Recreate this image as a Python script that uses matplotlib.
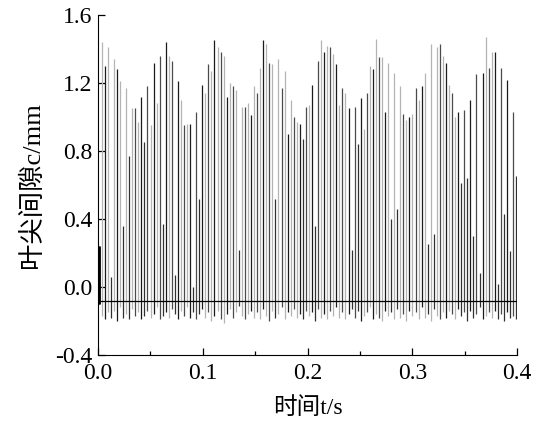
import numpy as np
import matplotlib
matplotlib.use('Agg')
import matplotlib.pyplot as plt

# pulse train: peak of each blade pulse (mm), left to right
peaks = [0.24,
         1.44, 1.30, 1.41, 0.06, 1.34, 1.28, 1.21, 0.36, 1.17, 0.77, 1.05, 1.05,
         0.97, 1.12, 0.85, 1.18, 0.95, 1.32, 1.08, 1.36, 0.37, 1.44, 1.36, 1.33,
         0.07, 1.21, 1.10, 0.95, 0.96, 0.96, 0.00, 1.03, 0.52, 1.19,
         1.14, 1.31, 1.27, 1.45, 1.41, 1.38, 1.36, 1.12, 1.20, 1.18, 1.16, 0.22,
         1.06, 1.06, 1.08, 1.01, 1.18, 1.14, 1.29, 1.45, 1.43, 1.32, 1.31, 0.52,
         1.34, 1.17, 1.27, 0.90, 1.10, 1.00, 0.97, 0.96, 0.87, 1.06, 1.07,
         1.19, 0.36, 1.33, 1.45, 1.38, 1.42, 1.41, 1.37, 1.31, 1.07, 1.17, 1.14,
         1.05, 0.22, 1.06, 0.84, 1.11, 0.93, 1.14, 1.30, 1.28, 1.46, 1.35, 1.35,
         1.03, 1.32, 0.40, 1.26, 0.46, 1.18, 1.02, 0.98, 1.00, 1.02,
         1.17, 1.10, 1.18, 1.26, 0.25, 1.43, 0.31, 1.41, 1.43, 1.36, 1.32, 1.19,
         1.14, 1.00, 1.03, 0.61, 1.04, 0.64, 1.10, 0.30, 1.25, 0.08, 1.26, 1.47,
         1.29, 1.38, 1.38, 0.02, 1.29, 0.43, 1.22, 0.21, 1.03, 0.65]

# lowest point of each pulse below the baseline
dips = [-0.10,
        -0.17, -0.19, -0.15, -0.18, -0.14, -0.20, -0.12, -0.18, -0.16, -0.19, -0.13, -0.17,
        -0.15, -0.19, -0.17, -0.14, -0.18, -0.16, -0.12, -0.19, -0.17, -0.15, -0.18, -0.13,
        -0.16, -0.19, -0.14, -0.17, -0.12, -0.18, -0.15, -0.19, -0.16, -0.13,
        -0.18, -0.15, -0.20, -0.17, -0.14, -0.19, -0.21, -0.16, -0.13, -0.18, -0.15, -0.11,
        -0.17, -0.19, -0.16, -0.14, -0.18, -0.15, -0.19, -0.13, -0.17, -0.20, -0.14, -0.18,
        -0.16, -0.12, -0.19, -0.15, -0.17, -0.13, -0.18, -0.16, -0.19, -0.14, -0.17,
        -0.15, -0.20, -0.13, -0.18, -0.16, -0.19, -0.14, -0.17, -0.12, -0.18, -0.15, -0.19,
        -0.16, -0.13, -0.18, -0.14, -0.20, -0.17, -0.15, -0.12, -0.19, -0.16, -0.18, -0.20,
        -0.14, -0.17, -0.15, -0.19, -0.13, -0.18, -0.16, -0.20, -0.14, -0.17,
        -0.15, -0.19, -0.12, -0.18, -0.16, -0.20, -0.13, -0.17, -0.19, -0.15, -0.18, -0.14,
        -0.16, -0.19, -0.13, -0.17, -0.15, -0.20, -0.14, -0.18, -0.16, -0.12, -0.19, -0.17,
        -0.15, -0.18, -0.14, -0.19, -0.16, -0.20, -0.15, -0.18, -0.17, -0.19]

baseline = -0.08
t_first = 0.0005     # pulse sitting on the y axis
t_start = 0.0036     # first full pulse
t_step = 0.002908    # blade passing interval (s)

times = np.concatenate([[t_first], t_start + t_step * np.arange(len(peaks) - 1)])

fam = ['Liberation Serif', 'Noto Sans CJK SC']
plt.rcParams['font.family'] = fam
plt.rcParams['axes.unicode_minus'] = False

fig = plt.figure(figsize=(5.37, 4.28), dpi=100)
ax = fig.add_axes([0.1825, 0.1706, 0.7803, 0.7944])

shades = ['#4a4a4a', '#b4b4b4', '#1a1a1a', '#b4b4b4']
cols = [shades[i % 4] for i in range(len(peaks))]
for i, p in enumerate(peaks):
   if p < 0.9:
      cols[i] = '#303030'
ax.vlines(times, dips, peaks, colors=cols, linewidth=0.9)
ax.vlines(times[:1], dips[:1], peaks[:1], colors='k', linewidth=2.0)
ax.plot([0.0, 0.4], [baseline, baseline], color='k', linewidth=0.9)

ax.set_xlim(0, 0.4)
ax.set_ylim(-0.4, 1.6)
ax.set_xticks([0.0, 0.1, 0.2, 0.3, 0.4])
ax.set_xticks([0.05, 0.15, 0.25, 0.35], minor=True)
ax.set_yticks([-0.4, 0.0, 0.4, 0.8, 1.2, 1.6])
ax.set_xticklabels(['0.0', '0.1', '0.2', '0.3', '0.4'])
ax.set_yticklabels(['-0.4', '0.0', '0.4', '0.8', '1.2', '1.6'])
ax.spines['top'].set_visible(False)
ax.spines['right'].set_visible(False)
ax.tick_params(direction='in', length=5, width=0.9, labelsize=17)
ax.tick_params(axis='x', pad=6)
ax.tick_params(axis='y', pad=4)
ax.tick_params(which='minor', direction='in', length=3, width=0.9)

ax.set_xlabel('时间t/s', fontsize=17, family=fam, labelpad=9)
ax.set_ylabel('叶尖间隙c/mm', fontsize=19, family=fam, labelpad=8)

fig.savefig('out.png', dpi=100)
